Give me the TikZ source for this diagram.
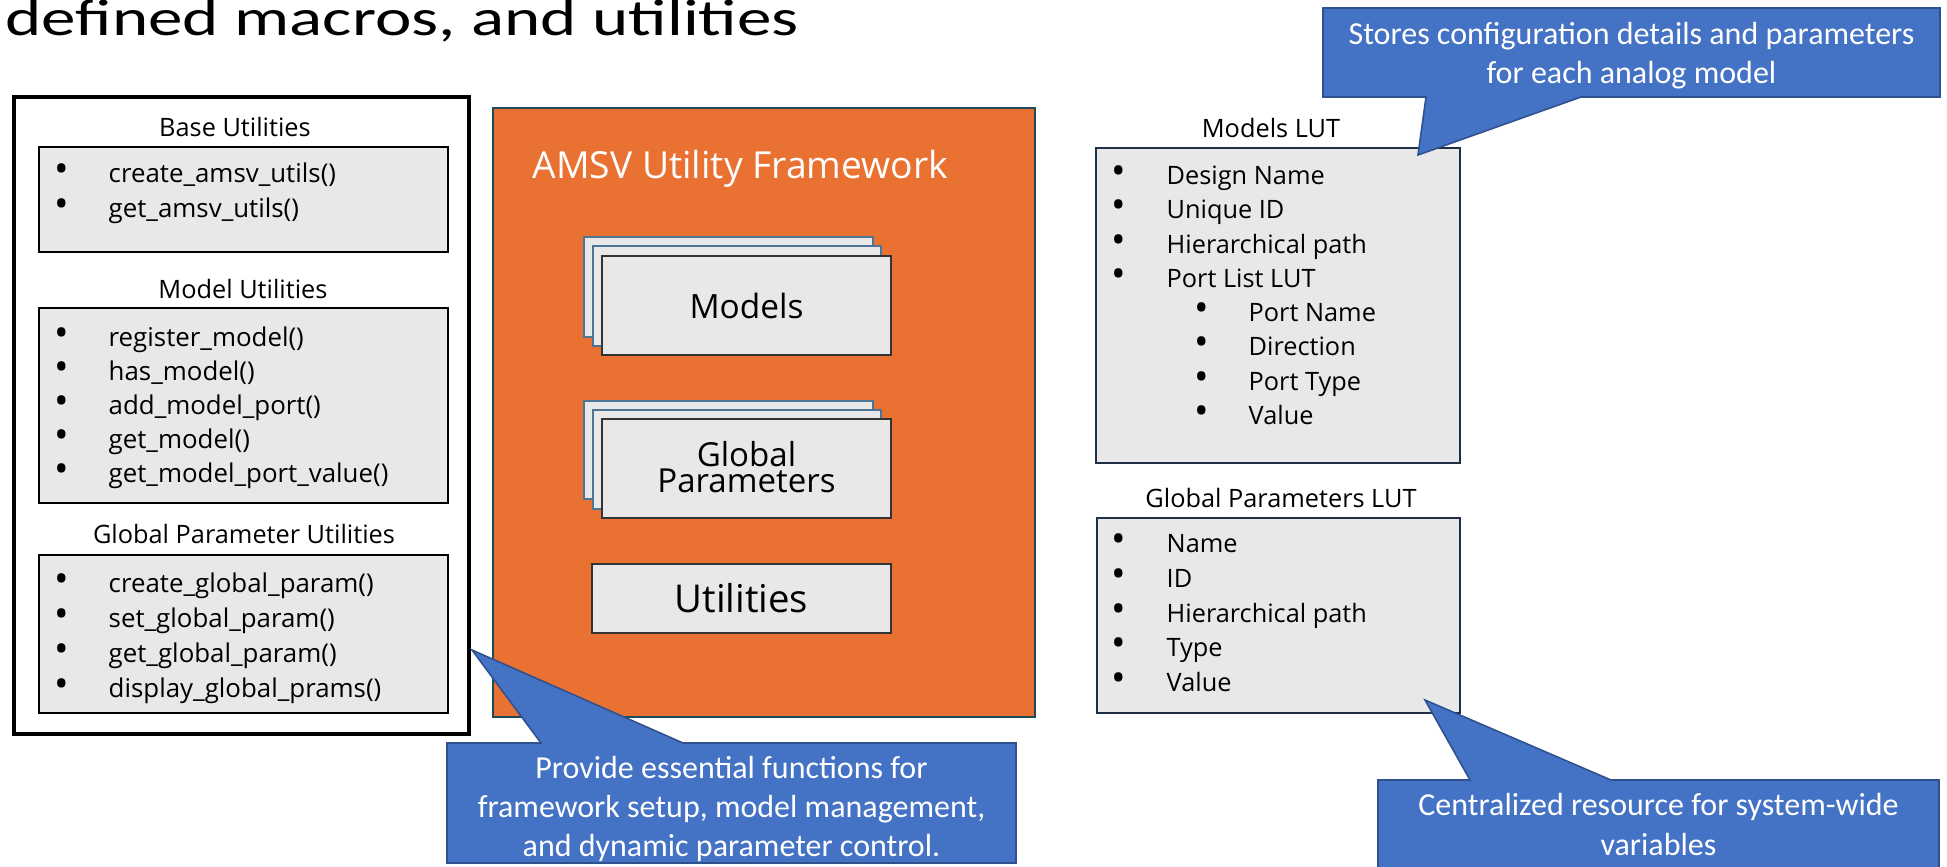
\documentclass[tikz,border=0pt]{standalone}
\usepackage{fontspec}
\setmainfont{Open Sans}
\newfontfamily\calloutfont{Carlito}
\newfontfamily\headfont[FakeStretch=1.34]{Carlito}

\definecolor{frameorange}{HTML}{E97132}
\definecolor{frameedge}{HTML}{1D4B5A}
\definecolor{boxgray}{HTML}{E8E8E8}
\definecolor{calloutblue}{HTML}{4472C4}
\definecolor{calloutedge}{HTML}{2F528F}
\definecolor{lutedge}{HTML}{1F3044}
\definecolor{stackedge}{HTML}{4D7593}

\tikzset{
  small/.style={font=\fontsize{7.2}{9}\selectfont, inner sep=0pt},
  listitem/.style={font=\fontsize{7.35}{9}\selectfont, inner sep=0pt, anchor=mid west},
  dot/.style={font=\fontsize{11}{12}\selectfont, inner sep=0pt, anchor=mid},
  listbox/.style={draw=black, line width=0.75pt, fill=boxgray},
  lutbox/.style={draw=lutedge, line width=0.7pt, fill=boxgray},
  card/.style={draw=black!80, line width=0.4pt, fill=boxgray},
  backcard/.style={draw=stackedge, line width=0.4pt, fill=boxgray},
  callout/.style={draw=calloutedge, line width=0.45pt, fill=calloutblue},
  callouttext/.style={font=\calloutfont\fontsize{9.1}{11.1}\selectfont, text=white, align=center, inner sep=0pt},
}

\begin{document}
\begin{tikzpicture}[x=0.01cm, y=-0.01cm]
	\useasboundingbox (0,0) rectangle (1947,866); % Explicit bounding box
	\clip (0,0) rectangle (1947,866);
	\node[anchor=base west, inner sep=0pt, font=\headfont\fontsize{14.65}{16}\selectfont] (heading) at (5,35) {defined macros, and utilities};

	% left column
	\draw[line width=0.9pt] (14,97) rectangle (469,734);
	\node[small, anchor=base] (baselbl) at (235,136) {Base Utilities};
	\draw[listbox] (39,147) rectangle (448,252);
	\foreach \t [count=\i from 0] in {create\_amsv\_utils(), get\_amsv\_utils()} {
		\node[dot] at (62,173+35*\i) {•};
		\node[listitem] (base\i) at (108,173+35*\i) {\t};
	}
	\node[small, anchor=base] (modellbl) at (243,298) {Model Utilities};
	\draw[listbox] (39,308) rectangle (448,503);
	\foreach \t [count=\i from 0] in {register\_model(), has\_model(), add\_model\_port(), get\_model(), get\_model\_port\_value()} {
		\node[dot] at (62,337+34*\i) {•};
		\node[listitem] (model\i) at (108,337+34*\i) {\t};
	}
	\node[small, anchor=base] (paramlbl) at (244,543) {Global Parameter Utilities};
	\draw[listbox] (39,555) rectangle (448,713);
	\foreach \t [count=\i from 0] in {create\_global\_param(), set\_global\_param(), get\_global\_param(), display\_global\_prams()} {
		\node[dot] at (62,583+35*\i) {•};
		\node[listitem] (param\i) at (108,583+35*\i) {\t};
	}

	% framework
	\draw[fill=frameorange, draw=frameedge, line width=0.6pt] (493,108) rectangle (1035,717);
	\node[anchor=base west, inner sep=0pt, text=white, font=\fontsize{10.6}{12}\selectfont] (fwtitle) at (532,178) {AMSV Utility Framework};
	\draw[backcard] (584,237) rectangle (873,337);
	\draw[backcard] (593,246) rectangle (881,346);
	\draw[card] (602,256) rectangle (891,355);
	\node[inner sep=0pt, font=\fontsize{9.5}{11}\selectfont] (models) at (746.5,305.5) {Models};
	\draw[backcard] (584,401) rectangle (873,499);
	\draw[backcard] (593,410) rectangle (881,509);
	\draw[card] (602,419) rectangle (891,518);
	\node[inner sep=0pt, align=center, font=\fontsize{9.4}{7.5}\selectfont] (globals) at (746.5,467) {Global\\Parameters};
	\draw[card] (592,564) rectangle (891,633);
	\node[inner sep=0pt, font=\fontsize{10.9}{12}\selectfont] (utils) at (741.5,598.5) {Utilities};

	% lookup tables
	\node[small, anchor=base] (modlutlbl) at (1271,137) {Models LUT};
	\draw[lutbox] (1096,148) rectangle (1460,463);
	\foreach \t [count=\i from 0] in {Design Name, Unique ID, Hierarchical path, Port List LUT} {
		\node[dot] at (1119,175+34.3*\i) {•};
		\node[small, anchor=mid west] (modlut\i) at (1166,175+34.3*\i) {\t};
	}
	\foreach \t [count=\i from 0] in {Port Name, Direction, Port Type, Value} {
		\node[dot] at (1202,312+34.3*\i) {•};
		\node[small, anchor=mid west] (port\i) at (1248,312+34.3*\i) {\t};
	}
	\node[small, anchor=base] (parlutlbl) at (1281,507) {Global Parameters LUT};
	\draw[lutbox] (1097,518) rectangle (1460,713);
	\foreach \t [count=\i from 0] in {Name, ID, Hierarchical path, Type, Value} {
		\node[dot] at (1119,543+34.8*\i) {•};
		\node[small, anchor=mid west] (parlut\i) at (1166,543+34.8*\i) {\t};
	}

	% callouts
	\coordinate (tipA) at (1418,155);
	\coordinate (tipB) at (472,650);
	\coordinate (tipC) at (1425,700);
	\draw[callout] (1323,8) -- (1940,8) -- (1940,97) -- (1581,97) -- (tipA) -- (1426,97) -- (1323,97) -- cycle;
	\node[callouttext] (noteA) at (1631.5,55.5) {Stores configuration details and parameters\\for each analog model};
	\draw[callout] (447,743) -- (541,743) -- (tipB) -- (683,743) -- (1016,743) -- (1016,863) -- (447,863) -- cycle;
	\node[callouttext] (noteB) at (731.5,808.5) {Provide essential functions for\\framework setup, model management,\\and dynamic parameter control.};
	\draw[callout] (1378,780) -- (1470,780) -- (tipC) -- (1611,780) -- (1939,780) -- (1939,890) -- (1378,890) -- cycle;
	\node[callouttext] (noteC) at (1658.5,824.5) {Centralized resource for system-wide\\variables};
\end{tikzpicture}
\end{document}
